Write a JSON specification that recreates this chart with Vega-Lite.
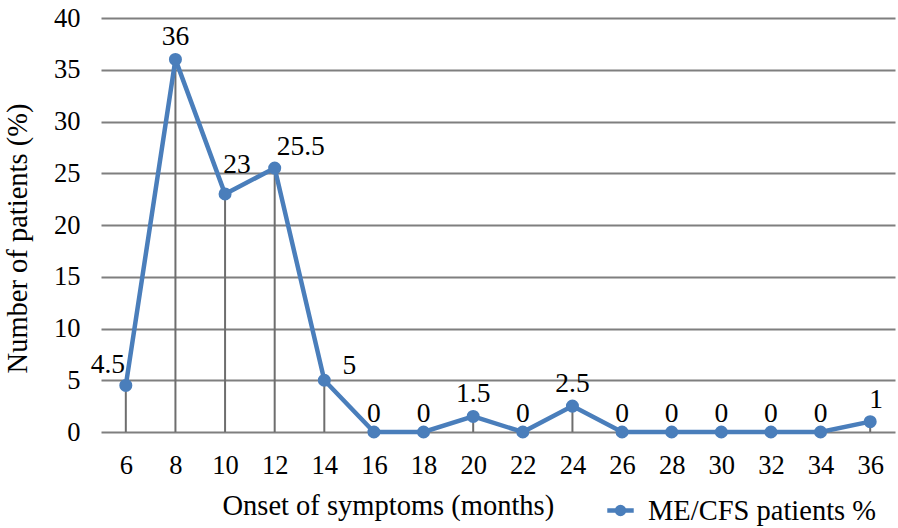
{
  "$schema": "https://vega.github.io/schema/vega-lite/v6.json",
  "autosize": "none",
  "width": 794,
  "height": 414,
  "padding": {"left": 101, "top": 18, "right": 3, "bottom": 96},
  "background": "white",
  "config": {
    "font": "Liberation Serif",
    "view": {"stroke": null},
    "axis": {"labelFont": "Liberation Serif", "titleFont": "Liberation Serif", "labelColor": "black", "titleColor": "black", "titleFontWeight": "normal", "labelFontSize": 26.5, "titleFontSize": 28.5},
    "legend": {"labelFont": "Liberation Serif", "labelColor": "black", "labelFontSize": 28.5, "labelLimit": 500},
    "text": {"font": "Liberation Serif", "fontSize": 27.5, "color": "black"}
  },
  "data": {
    "values": [
      {"month": "6", "value": 4.5, "label": "4.5"},
      {"month": "8", "value": 36, "label": "36"},
      {"month": "10", "value": 23, "label": "23"},
      {"month": "12", "value": 25.5, "label": "25.5"},
      {"month": "14", "value": 5, "label": "5"},
      {"month": "16", "value": 0, "label": "0"},
      {"month": "18", "value": 0, "label": "0"},
      {"month": "20", "value": 1.5, "label": "1.5"},
      {"month": "22", "value": 0, "label": "0"},
      {"month": "24", "value": 2.5, "label": "2.5"},
      {"month": "26", "value": 0, "label": "0"},
      {"month": "28", "value": 0, "label": "0"},
      {"month": "30", "value": 0, "label": "0"},
      {"month": "32", "value": 0, "label": "0"},
      {"month": "34", "value": 0, "label": "0"},
      {"month": "36", "value": 1, "label": "1"}
    ]
  },
  "encoding": {
    "x": {
      "field": "month", "type": "ordinal",
      "scale": {"type": "point", "padding": 0.5, "domain": ["6","8","10","12","14","16","18","20","22","24","26","28","30","32","34","36"]},
      "axis": {"title": "Onset of symptoms (months)", "labelAngle": 0, "grid": false, "domain": false, "ticks": false, "labelPadding": 20, "titleAnchor": "start", "titleX": 121, "titleY": 73, "titleBaseline": "middle"}
    }
  },
  "layer": [
    {
      "mark": {"type": "rule", "color": "#6e6e6e", "strokeWidth": 2},
      "encoding": {
        "y": {
          "field": "value", "type": "quantitative",
          "scale": {"domain": [0, 40], "nice": false},
          "axis": {"title": "Number of patients (%)", "values": [0,5,10,15,20,25,30,35,40], "grid": true, "gridColor": "#7f7f7f", "gridWidth": 2, "gridOpacity": 1, "domain": false, "ticks": false, "labelPadding": 21, "titleX": -84, "titleY": 220, "titleAnchor": "middle", "titleBaseline": "middle"}
        },
        "y2": {"datum": 0}
      }
    },
    {
      "mark": {"type": "line", "color": "#4a7ebb", "strokeWidth": 4.5, "point": {"filled": true, "size": 170, "color": "#4a7ebb", "opacity": 1}},
      "encoding": {
        "y": {"field": "value", "type": "quantitative"},
        "color": {
          "datum": "ME/CFS patients %",
          "scale": {"range": ["#4a7ebb"]},
          "legend": {
            "title": null,
            "orient": "none",
            "legendX": 504,
            "legendY": 477,
            "symbolType": "M-1,0H1M0,-0.26A0.26,0.26 0 1,1 0,0.26A0.26,0.26 0 1,1 0,-0.26",
            "symbolSize": 700,
            "symbolStrokeWidth": 4.5,
            "labelOffset": 12,
            "encode": {"symbols": {"update": {"fill": {"value": "#4a7ebb"}, "stroke": {"value": "#4a7ebb"}, "opacity": {"value": 1}}}}
          }
        }
      }
    },
    {
      "transform": [{"filter": "indexof(['6','10','12','14','36'], datum.month) < 0 && datum.value > 0"}],
      "mark": {"type": "text", "dy": -22},
      "encoding": {"y": {"field": "value", "type": "quantitative"}, "text": {"field": "label"}}
    },
    {
      "transform": [{"filter": "datum.value == 0"}],
      "mark": {"type": "text", "dy": -18},
      "encoding": {"y": {"field": "value", "type": "quantitative"}, "text": {"field": "label"}}
    },
    {
      "transform": [{"filter": "datum.month == '6'"}],
      "mark": {"type": "text", "dy": -20, "dx": -18},
      "encoding": {"y": {"field": "value", "type": "quantitative"}, "text": {"field": "label"}}
    },
    {
      "transform": [{"filter": "datum.month == '10'"}],
      "mark": {"type": "text", "dy": -29, "dx": 12},
      "encoding": {"y": {"field": "value", "type": "quantitative"}, "text": {"field": "label"}}
    },
    {
      "transform": [{"filter": "datum.month == '12'"}],
      "mark": {"type": "text", "dy": -21, "dx": 26},
      "encoding": {"y": {"field": "value", "type": "quantitative"}, "text": {"field": "label"}}
    },
    {
      "transform": [{"filter": "datum.month == '14'"}],
      "mark": {"type": "text", "dy": -14, "dx": 25},
      "encoding": {"y": {"field": "value", "type": "quantitative"}, "text": {"field": "label"}}
    },
    {
      "transform": [{"filter": "datum.month == '36'"}],
      "mark": {"type": "text", "dy": -22, "dx": 6},
      "encoding": {"y": {"field": "value", "type": "quantitative"}, "text": {"field": "label"}}
    }
  ]
}
